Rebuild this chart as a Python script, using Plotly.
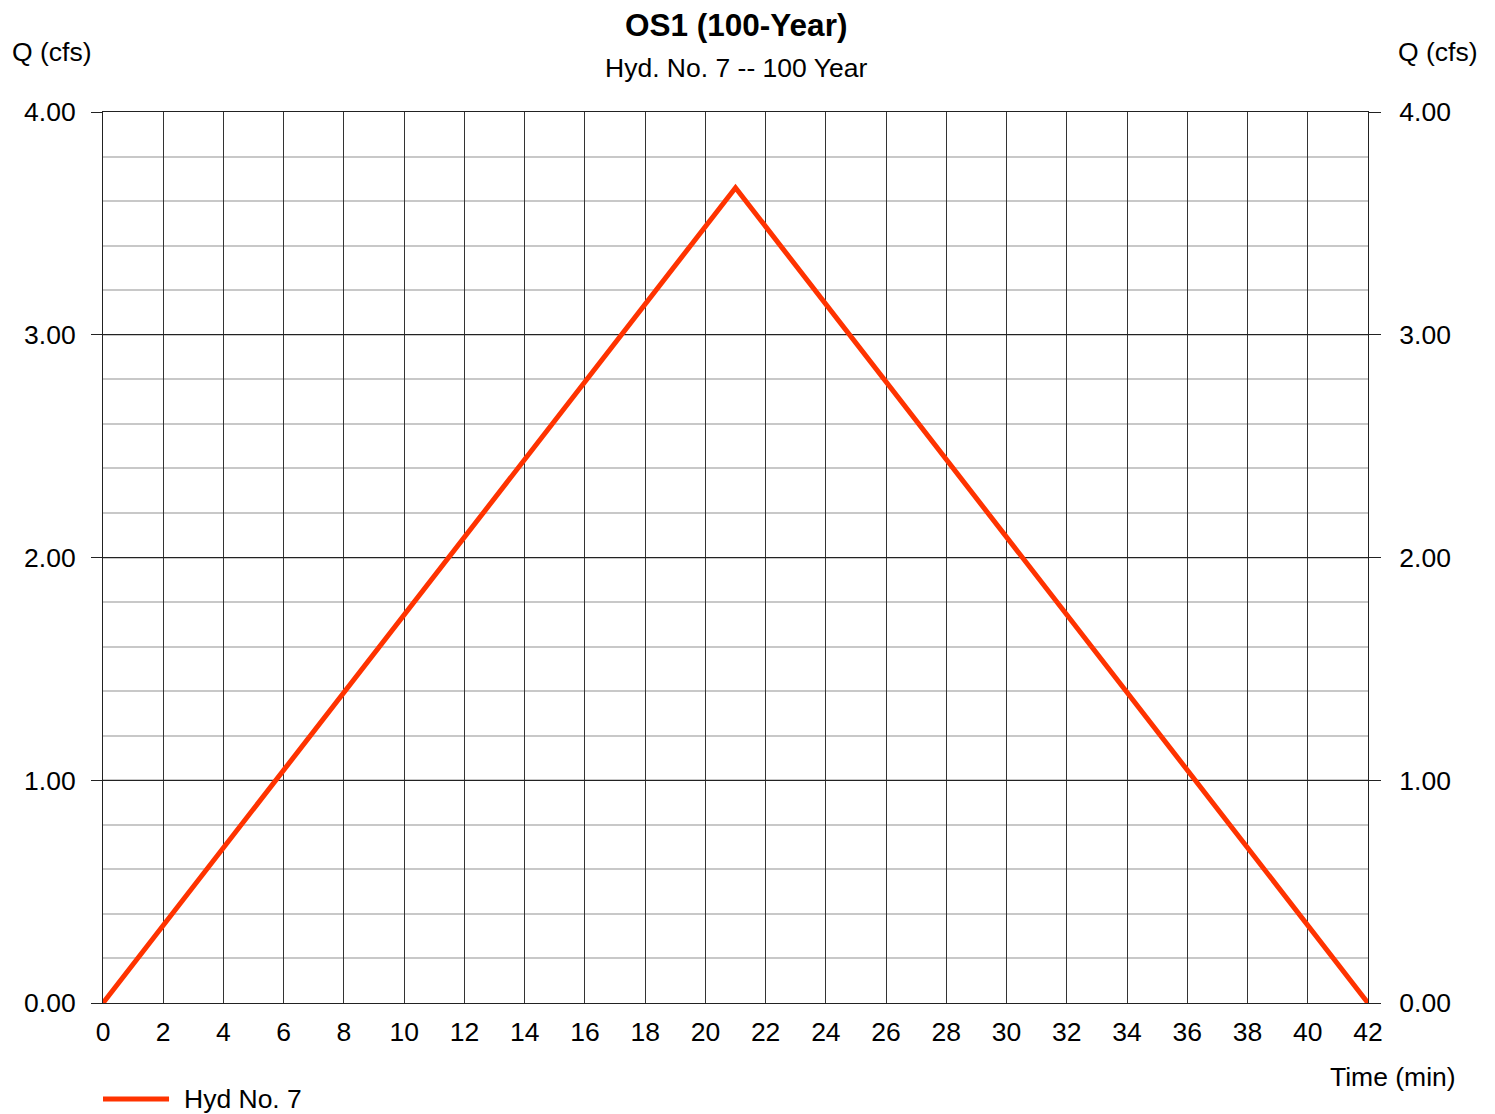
import plotly.graph_objects as go

# Hydrograph ordinates (time in minutes, discharge in cfs)
time_min = [0, 21, 42]
flow_cfs = [0.0, 3.66, 0.0]

x_ticks = list(range(0, 43, 2))
y_ticks = [0, 1, 2, 3, 4]
y_tick_text = ["0.00", "1.00", "2.00", "3.00", "4.00"]

title_text = "OS1 (100-Year)"
subtitle_text = "Hyd. No. 7 -- 100 Year"
series_name = "Hyd No. 7"

FONT = "Liberation Sans, Arial, sans-serif"
LINE_COLOR = "#ff3300"
GRID_DARK = "#222222"
TXT = 26.5

fig = go.Figure()
fig.add_trace(go.Scatter(
    x=time_min, y=flow_cfs, mode="lines", name=series_name,
    line=dict(color=LINE_COLOR, width=5), showlegend=False,
))
# invisible companion trace so the right-hand axis is drawn
fig.add_trace(go.Scatter(
    x=time_min, y=flow_cfs, mode="lines", yaxis="y2",
    line=dict(width=0), hoverinfo="skip", showlegend=False, opacity=0,
))

axis_common = dict(zeroline=False, showline=True, mirror=True,
                   linecolor=GRID_DARK, linewidth=1)

fig.update_layout(
    width=1495, height=1114,
    margin=dict(l=103, r=127, t=112, b=111),
    paper_bgcolor="white", plot_bgcolor="white",
    font=dict(family=FONT, size=TXT, color="black"),
    showlegend=False,
    xaxis=dict(
        range=[0, 42], tickvals=x_ticks, ticktext=[str(v) for v in x_ticks],
        showgrid=True, gridcolor="#333333", gridwidth=1,
        ticks="outside", ticklen=5, tickcolor="rgba(0,0,0,0)",
        tickfont=dict(size=TXT), **axis_common,
    ),
    yaxis=dict(
        range=[0, 4], tickvals=y_ticks, ticktext=y_tick_text,
        showgrid=True, gridcolor=GRID_DARK, gridwidth=1,
        minor=dict(dtick=0.2, showgrid=True, gridcolor="#c8c8c8", gridwidth=2),
        ticks="outside", ticklen=11, tickcolor=GRID_DARK, tickwidth=1,
        ticklabelstandoff=10, tickfont=dict(size=TXT), **axis_common,
    ),
    yaxis2=dict(
        range=[0, 4], tickvals=y_ticks, ticktext=y_tick_text,
        overlaying="y", side="right", showgrid=False, zeroline=False, showline=False,
        ticks="outside", ticklen=12, tickcolor=GRID_DARK, tickwidth=1,
        ticklabelstandoff=13, tickfont=dict(size=TXT),
    ),
    shapes=[
        # legend swatch for the hydrograph line
        dict(type="line", xref="paper", yref="paper", x0=0.0, x1=0.0522,
             y0=-0.1077, y1=-0.1077, line=dict(color=LINE_COLOR, width=5)),
    ],
    annotations=[
        dict(text="<b>" + title_text + "</b>", x=0.5, y=1.0976, xref="paper", yref="paper",
             xanchor="center", yanchor="middle", showarrow=False, font=dict(size=31.5)),
        dict(text=subtitle_text, x=0.5, y=1.0494, xref="paper", yref="paper",
             xanchor="center", yanchor="middle", showarrow=False, font=dict(size=26.5)),
        dict(text="Q (cfs)", x=-0.0403, y=1.0673, xref="paper", yref="paper",
             xanchor="center", yanchor="middle", showarrow=False, font=dict(size=TXT)),
        dict(text="Q (cfs)", x=1.0553, y=1.0673, xref="paper", yref="paper",
             xanchor="center", yanchor="middle", showarrow=False, font=dict(size=TXT)),
        dict(text="Time (min)", x=1.0198, y=-0.083, xref="paper", yref="paper",
             xanchor="center", yanchor="middle", showarrow=False, font=dict(size=TXT)),
        dict(text=series_name, x=0.0625, y=-0.1077, xref="paper", yref="paper",
             xanchor="left", yanchor="middle", showarrow=False, font=dict(size=TXT)),
    ],
)

fig.write_html("out.html")
